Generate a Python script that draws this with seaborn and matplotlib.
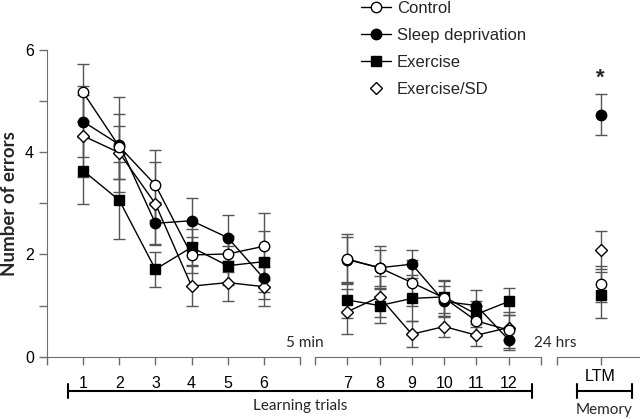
import numpy as np
import pandas as pd
import seaborn as sns
import matplotlib.pyplot as plt
from matplotlib.lines import Line2D

# Datos (media y error estandar por ensayo)
trials_a = [1, 2, 3, 4, 5, 6]
trials_b = [7, 8, 9, 10, 11, 12]

control = [5.17, 4.11, 3.36, 1.99, 2.01, 2.16, 1.91, 1.74, 1.45, 1.15, 0.70, 0.52]
sleep = [4.60, 4.15, 2.61, 2.66, 2.33, 1.53, 1.90, 1.74, 1.81, 1.08, 1.00, 0.33]
exercise = [3.64, 3.06, 1.71, 2.14, 1.78, 1.86, 1.11, 1.00, 1.14, 1.17, 0.83, 1.08]
exsd = [4.32, 3.99, 2.99, 1.38, 1.45, 1.37, 0.88, 1.17, 0.44, 0.59, 0.42, 0.57]

control_sem = [0.55, 0.63, 0.68, 0.36, 0.35, 0.66, 0.49, 0.42, 0.45, 0.35, 0.30, 0.35]
sleep_sem = [0.70, 0.93, 0.41, 0.44, 0.45, 0.40, 0.45, 0.35, 0.28, 0.30, 0.30, 0.20]
exercise_sem = [0.65, 0.75, 0.34, 0.35, 0.38, 0.60, 0.35, 0.35, 0.45, 0.32, 0.25, 0.27]
exsd_sem = [0.80, 0.52, 0.81, 0.39, 0.37, 0.38, 0.44, 0.40, 0.26, 0.20, 0.22, 0.25]

# Memoria a largo plazo (24 h)
ltm = {'Control': (1.42, 0.35), 'Sleep deprivation': (4.73, 0.40),
       'Exercise': (1.21, 0.45), 'Exercise/SD': (2.09, 0.37)}

groups = {
    'Control': (control, control_sem, 'o', 'white', 7.5),
    'Sleep deprivation': (sleep, sleep_sem, 'o', 'black', 7.5),
    'Exercise': (exercise, exercise_sem, 's', 'black', 7),
    'Exercise/SD': (exsd, exsd_sem, 'D', 'white', 6.3),
}
draw_order = ['Exercise/SD', 'Exercise', 'Sleep deprivation', 'Control']

sns.set_style('ticks')
plt.rcParams['font.family'] = ['Liberation Sans', 'DejaVu Sans']
axis_gray = '#6e6e6e'
bar_gray = '#555555'

fig = plt.figure(figsize=(6.4, 4.19), dpi=100)
bottom, height = 62.3 / 419, 306.7 / 419
ax1 = fig.add_axes([47 / 640, bottom, 253 / 640, height])
ax2 = fig.add_axes([315 / 640, bottom, 226 / 640, height], sharey=ax1)
ax3 = fig.add_axes([557 / 640, bottom, 83 / 640, height], sharey=ax1)

n = len(trials_a)
for z, name in enumerate(draw_order):
    vals, sem, mk, face, ms = groups[name]
    for ax, xs, v, e in [(ax1, trials_a, vals[:n], sem[:n]),
                         (ax2, trials_b, vals[n:], sem[n:])]:
        ax.errorbar(xs, v, yerr=e, fmt='none', ecolor=bar_gray, elinewidth=1,
                    capsize=4.5, capthick=1, zorder=2 + z, clip_on=False)
        df = pd.DataFrame({'trial': xs, 'errors': v})
        sns.lineplot(data=df, x='trial', y='errors', ax=ax, color='black', lw=1,
                     marker=mk, markersize=ms, markerfacecolor=face,
                     markeredgecolor='black', markeredgewidth=1,
                     zorder=6 + z, clip_on=False)
    m, e = ltm[name]
    ax3.errorbar([0], [m], yerr=[e], fmt='none', ecolor=bar_gray, elinewidth=1,
                 capsize=4.5, capthick=1, zorder=2 + z, clip_on=False)
    sns.lineplot(x=[0], y=[m], ax=ax3, color='black', marker=mk, markersize=ms,
                 markerfacecolor=face, markeredgecolor='black',
                 markeredgewidth=1, zorder=6 + z, clip_on=False)

m, e = ltm['Sleep deprivation']
ax3.text(0, m + e + 0.12, '*', ha='center', va='bottom', fontsize=16,
         fontweight='bold')

for ax in (ax1, ax2, ax3):
    ax.set_ylim(0, 6)
    ax.set_xlabel('')
    ax.set_ylabel('')
    for s in ('top', 'right'):
        ax.spines[s].set_visible(False)
    ax.spines['bottom'].set_color(axis_gray)
    ax.spines['left'].set_color(axis_gray)
    ax.tick_params(colors=axis_gray, labelcolor='black', labelsize=11.5,
                   length=6, width=1, direction='out')

ax1.set_xlim(0, 7)
ax1.set_xticks([0] + trials_a + [7])
ax1.set_xticklabels([''] + [str(t) for t in trials_a] + [''])
ax1.set_yticks([0, 2, 4, 6])
ax1.set_yticks([1, 3, 5], minor=True)
ax1.tick_params(axis='y', which='minor', length=6, width=1, colors=axis_gray)
ax1.tick_params(axis='x', pad=8)

ax2.set_xlim(6, 13)
ax2.set_xticks([6] + trials_b + [13])
ax2.set_xticklabels([''] + [str(t) for t in trials_b] + [''])
ax2.tick_params(axis='x', pad=8)

ax3.set_xlim(-1, 0.9)
ax3.set_xticks([-1, 0])
ax3.set_xticklabels(['', 'LTM'])
ax3.tick_params(axis='x', pad=3)

for ax in (ax2, ax3):
    ax.spines['left'].set_visible(False)
    ax.tick_params(axis='y', which='both', left=False, labelleft=False)

ax1.set_ylabel('Number of errors', fontsize=13.5, fontweight='bold',
               family=['Lato', 'DejaVu Sans'])
ax1.yaxis.set_label_coords(-0.115, 0.5)

# textos y corchetes de la parte inferior
note = dict(fontsize=11, family=['Lato', 'DejaVu Sans'], ha='center',
            va='center')
fig.text(305 / 640, 1 - 343 / 419, '5 min', **note)
fig.text(555 / 640, 1 - 343 / 419, '24 hrs', **note)
fig.text(300 / 640, 1 - 406 / 419, 'Learning trials', **note)
fig.text(604 / 640, 1 - 410 / 419, 'Memory', **note)
for x0, x1 in [(68, 532), (577, 632)]:
    fig.add_artist(Line2D([x0 / 640, x1 / 640], [1 - 391 / 419] * 2,
                          color='black', lw=1.5))
    for xe in (x0, x1):
        fig.add_artist(Line2D([xe / 640] * 2, [1 - 384 / 419, 1 - 398 / 419],
                              color='black', lw=1.5))

handles = []
for name in ['Control', 'Sleep deprivation', 'Exercise', 'Exercise/SD']:
    _, _, mk, face, ms = groups[name]
    ls = 'none' if name == 'Exercise/SD' else '-'
    handles.append(Line2D([], [], color='black', lw=1, ls=ls, marker=mk,
                          markersize=ms, markerfacecolor=face,
                          markeredgecolor='black'))
fig.legend(handles, list(groups.keys()), loc='upper left',
           bbox_to_anchor=(361 / 640, 0.997), frameon=False, fontsize=12,
           handlelength=1.8, handletextpad=0.35, labelspacing=0.72,
           borderpad=0, borderaxespad=0)

fig.savefig('out.png', dpi=100)
